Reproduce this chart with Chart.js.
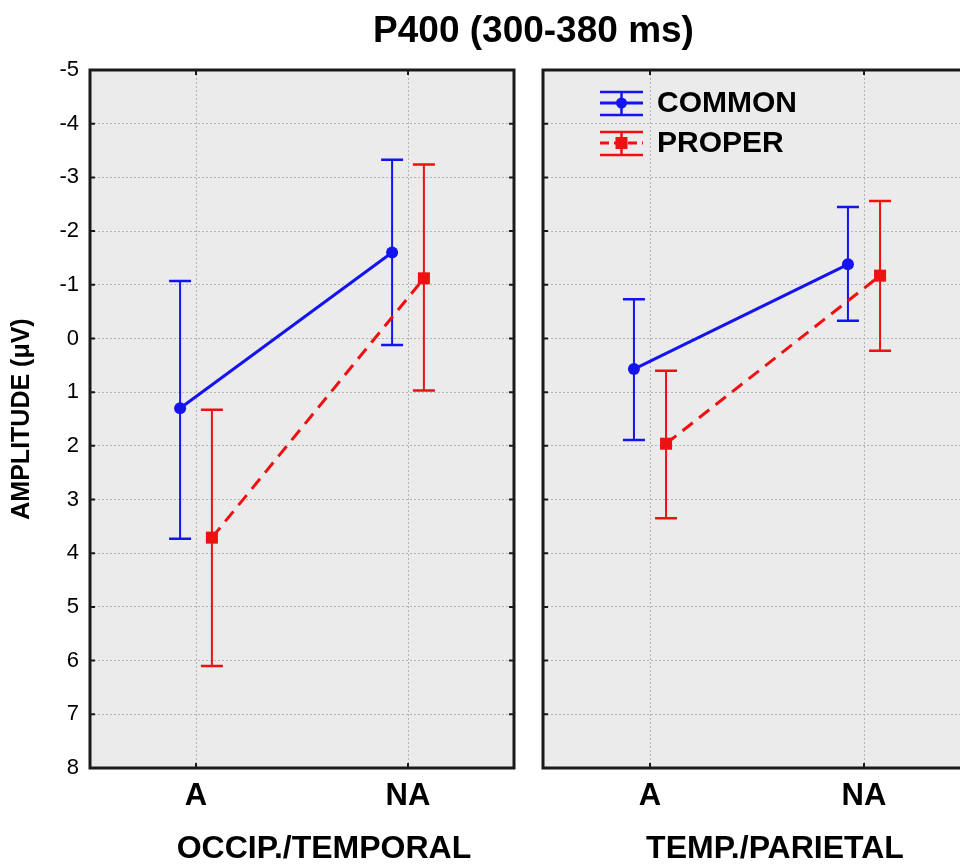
<!DOCTYPE html>
<html><head><meta charset="utf-8">
<script src="https://cdn.jsdelivr.net/npm/chart.js@4.4.0/dist/chart.umd.min.js"></script>
<style>
html,body{margin:0;padding:0;overflow:hidden;background:#fff;width:960px;height:866px;}
#title{position:absolute;left:0;width:1067px;top:9px;text-align:center;font:bold 37px "Liberation Sans",Arial,sans-serif;color:#000;}
#wrapL{position:absolute;left:0;top:0;width:530px;height:866px;}
#wrapR{position:absolute;left:530px;top:0;width:460px;height:866px;}
</style></head><body>
<div id="wrapL"><canvas id="cL" width="530" height="866"></canvas></div>
<div id="wrapR"><canvas id="cR" width="460" height="866"></canvas></div>
<div id="title">P400 (300-380 ms)</div>
<script>
// ---- data ----
const categories = ['A', 'NA'];
const seriesNames = ['COMMON', 'PROPER'];
const regionTitles = ['OCCIP./TEMPORAL', 'TEMP./PARIETAL'];
const yAxisTitle = 'AMPLITUDE (\u03BCV)';
const yTickValues = [-5, -4, -3, -2, -1, 0, 1, 2, 3, 4, 5, 6, 7, 8];

// OCCIP./TEMPORAL
const commonOT = [1.30, -1.60];
const commonOTci = [[-1.07, 3.73], [-3.33, 0.12]];
const properOT = [3.71, -1.12];
const properOTci = [[1.33, 6.10], [-3.24, 0.97]];
// TEMP./PARIETAL
const commonTP = [0.57, -1.38];
const commonTPci = [[-0.73, 1.89], [-2.45, -0.33]];
const properTP = [1.96, -1.17];
const properTPci = [[0.60, 3.35], [-2.56, 0.23]];

// ---- styles ----
const FONT = '"Liberation Sans", Arial, sans-serif';
const BLUE = '#1414f0';
const RED = '#ee1111';
const GRID = '#b4b4b4';
const seriesOffset = [-0.15, 0.15];

function catPos(i) { return 2 * i + 1; }

function makeDatasets(vals, cis) {
  const styles = [
    { color: BLUE, dash: [], pointStyle: 'circle', radius: 6 },
    { color: RED, dash: [13, 8], pointStyle: 'rect', radius: 8.5 }
  ];
  return vals.map((v, s) => ({
    label: seriesNames[s],
    data: categories.map((c, i) => ({ x: catPos(i) + seriesOffset[s], y: v[i] })),
    ci: cis[s],
    borderColor: styles[s].color,
    backgroundColor: styles[s].color,
    borderWidth: 3,
    borderDash: styles[s].dash,
    pointStyle: styles[s].pointStyle,
    pointRadius: styles[s].radius,
    pointBorderWidth: 0,
    pointHoverRadius: styles[s].radius,
    tension: 0,
    fill: false
  }));
}

const bgPlugin = {
  id: 'bg',
  beforeDraw(chart) {
    const { ctx, chartArea: a } = chart;
    ctx.save();
    ctx.fillStyle = '#ebebeb';
    ctx.fillRect(a.left, a.top, a.right - a.left, a.bottom - a.top);
    ctx.restore();
  }
};

const errorBarPlugin = {
  id: 'errbars',
  beforeDatasetsDraw(chart) {
    const { ctx, scales: { x, y } } = chart;
    chart.data.datasets.forEach(ds => {
      ds.data.forEach((p, i) => {
        const [a, b] = ds.ci[i];
        const px = x.getPixelForValue(p.x);
        const ya = y.getPixelForValue(a), yb = y.getPixelForValue(b);
        ctx.save();
        ctx.strokeStyle = ds.borderColor;
        ctx.setLineDash([]);
        ctx.lineWidth = 2;
        ctx.beginPath(); ctx.moveTo(px, ya); ctx.lineTo(px, yb); ctx.stroke();
        ctx.lineWidth = 2.5;
        ctx.beginPath();
        ctx.moveTo(px - 11, ya); ctx.lineTo(px + 11, ya);
        ctx.moveTo(px - 11, yb); ctx.lineTo(px + 11, yb);
        ctx.stroke();
        ctx.restore();
      });
    });
  }
};

const framePlugin = {
  id: 'frame',
  afterDraw(chart, args, opts) {
    const { ctx, chartArea: a, scales: { x, y } } = chart;
    ctx.save();
    ctx.strokeStyle = '#1a1a1a';
    ctx.lineWidth = 3;
    ctx.strokeRect(a.left, a.top, a.right - a.left, a.bottom - a.top);
    // inner ticks
    ctx.lineWidth = 2;
    ctx.beginPath();
    yTickValues.forEach(v => {
      const py = y.getPixelForValue(v);
      ctx.moveTo(a.left, py); ctx.lineTo(a.left + 5, py);
      ctx.moveTo(a.right, py); ctx.lineTo(a.right - 5, py);
    });
    categories.forEach((c, i) => {
      const px = x.getPixelForValue(catPos(i));
      ctx.moveTo(px, a.top); ctx.lineTo(px, a.top + 5);
      ctx.moveTo(px, a.bottom); ctx.lineTo(px, a.bottom - 5);
    });
    ctx.stroke();
    // x-axis region title
    ctx.fillStyle = '#000';
    ctx.font = 'bold 32px ' + FONT;
    ctx.textAlign = 'center';
    ctx.textBaseline = 'middle';
    ctx.fillText(opts.title, opts.titleX, 849);
    ctx.restore();
  }
};

const legendPlugin = {
  id: 'customLegend',
  afterDraw(chart, args, opts) {
    if (!opts.show) return;
    const { ctx, chartArea: a } = chart;
    const x0 = a.left + 57, x1 = a.left + 100, xc = (x0 + x1) / 2;
    chart.data.datasets.forEach((ds, s) => {
      const yc = a.top + 33 + s * 40;
      ctx.save();
      ctx.strokeStyle = ds.borderColor;
      ctx.fillStyle = ds.borderColor;
      ctx.lineWidth = 2.5;
      ctx.beginPath();
      ctx.moveTo(x0, yc - 11); ctx.lineTo(x1, yc - 11);
      ctx.moveTo(x0, yc + 12); ctx.lineTo(x1, yc + 12);
      ctx.moveTo(xc, yc - 11); ctx.lineTo(xc, yc + 12);
      ctx.stroke();
      ctx.lineWidth = 3;
      ctx.setLineDash(ds.borderDash.length ? [9, 5] : []);
      ctx.beginPath(); ctx.moveTo(x0, yc); ctx.lineTo(x1, yc); ctx.stroke();
      ctx.setLineDash([]);
      if (ds.pointStyle === 'circle') {
        ctx.beginPath(); ctx.arc(xc, yc, 5.5, 0, Math.PI * 2); ctx.fill();
      } else {
        ctx.fillRect(xc - 6, yc - 6, 12, 12);
      }
      ctx.fillStyle = '#000';
      ctx.font = 'bold 30px ' + FONT;
      ctx.textAlign = 'left';
      ctx.textBaseline = 'middle';
      ctx.fillText(ds.label, a.left + 114, yc + 1);
      ctx.restore();
    });
  }
};

function makeChart(canvasId, vals, cis, panelIndex) {
  const left = panelIndex === 0;
  return new Chart(document.getElementById(canvasId), {
    type: 'line',
    data: { datasets: makeDatasets(vals, cis) },
    plugins: [bgPlugin, errorBarPlugin, framePlugin, legendPlugin],
    options: {
      responsive: false,
      animation: false,
      devicePixelRatio: 1,
      layout: { padding: { top: 70, right: left ? 16 : 19, bottom: 0, left: 0 } },
      plugins: {
        legend: { display: false },
        tooltip: { enabled: false },
        title: { display: false },
        frame: { title: regionTitles[panelIndex], titleX: left ? 324 : 245 },
        customLegend: { show: !left }
      },
      scales: {
        x: {
          type: 'linear', min: 0, max: 4,
          afterBuildTicks: s => { s.ticks = categories.map((c, i) => ({ value: catPos(i) })); },
          ticks: {
            callback: v => categories[(v - 1) / 2],
            font: { family: FONT, size: 31, weight: 'bold' },
            color: '#000', padding: 10, autoSkip: false, maxRotation: 0
          },
          grid: { drawTicks: false, color: GRID, lineWidth: 1 },
          border: { display: false, dash: [2, 2] },
          afterFit: s => { s.height = 98; }
        },
        y: {
          type: 'linear', reverse: true, min: -5, max: 8,
          afterBuildTicks: s => { s.ticks = yTickValues.map(v => ({ value: v })); },
          ticks: {
            display: left,
            font: { family: FONT, size: 22 },
            color: '#000', padding: 11
          },
          grid: { drawTicks: false, color: GRID, lineWidth: 1 },
          border: { display: false, dash: [2, 2] },
          title: {
            display: left, text: yAxisTitle, color: '#000',
            font: { family: FONT, size: 25, weight: 'bold' },
            padding: { top: 7, bottom: 0 }
          },
          afterFit: s => { s.width = left ? 90 : 13; }
        }
      }
    }
  });
}

makeChart('cL', [commonOT, properOT], [commonOTci, properOTci], 0);
makeChart('cR', [commonTP, properTP], [commonTPci, properTPci], 1);
</script>
</body></html>
